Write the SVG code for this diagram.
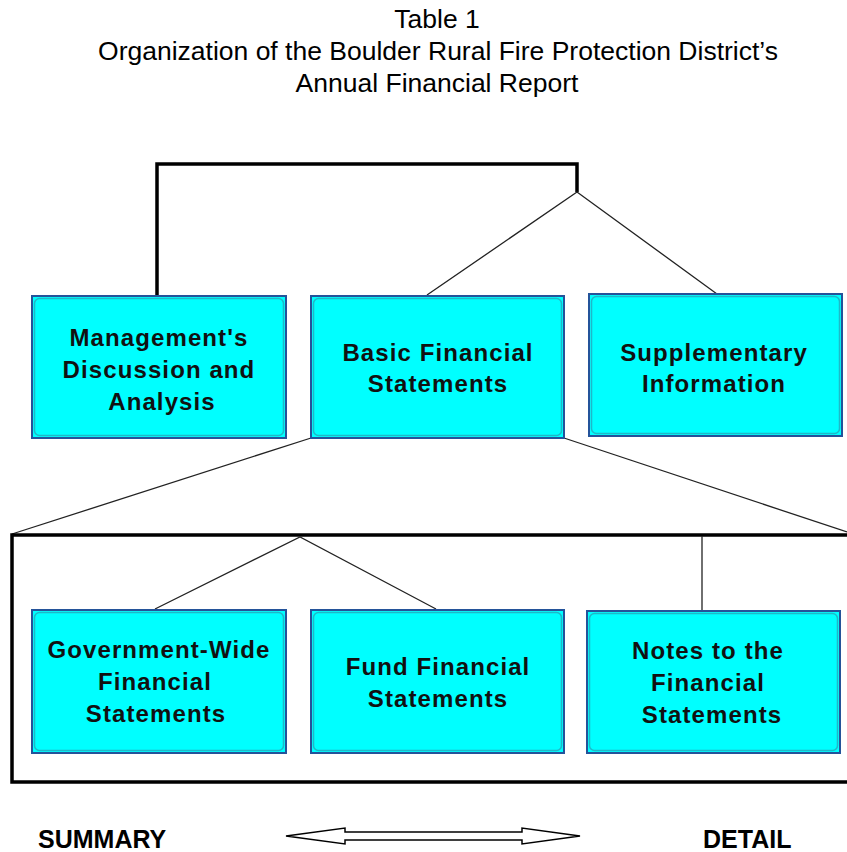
<svg xmlns="http://www.w3.org/2000/svg" width="847" height="852" viewBox="0 0 847 852">
<style>
.title{font-family:"Liberation Sans",Arial,sans-serif;font-size:26.5px;fill:#000;text-anchor:middle}
.box{fill:#00FFFF;stroke:#24539a;stroke-width:2}
.bev{fill:none;stroke:#1fb8c8;stroke-width:1.5}
.lbl{font-family:"Liberation Sans",Arial,sans-serif;font-weight:bold;font-size:24px;letter-spacing:1.1px;fill:#111;text-anchor:middle}
.thick{fill:none;stroke:#000;stroke-width:3.5}
.thin{fill:none;stroke:#222;stroke-width:1.3}
.end{font-family:"Liberation Sans",Arial,sans-serif;font-weight:bold;font-size:25px;fill:#000}
</style>
<rect width="847" height="852" fill="#fff"/>
<g id="title">
<text class="title" x="437" y="28">Table 1</text>
<text class="title" x="438" y="60">Organization of the Boulder Rural Fire Protection District’s</text>
<text class="title" x="437" y="92">Annual Financial Report</text>
</g>
<g id="connectors">
<path class="thick" d="M157,295 V164 H577 V192"/>
<path class="thin" d="M427,295 L577,192 L717,294"/>
<path class="thin" d="M311,438 L12,534"/>
<path class="thin" d="M564,438 L847,532"/>
<path class="thick" d="M847,535 H12 V782 H847"/>
<path class="thin" d="M155,609 L300,537 L436,609"/>
<path class="thin" d="M702,536 V610"/>
</g>
<g id="mda">
<rect class="box" x="32" y="296" width="254" height="142"/>
<rect class="bev" x="34.5" y="298.5" width="249" height="137" rx="5"/>
<text class="lbl" x="159" y="346">Management's</text>
<text class="lbl" x="159" y="378">Discussion and</text>
<text class="lbl" x="162" y="410">Analysis</text>
</g>
<g id="basic">
<rect class="box" x="311" y="296" width="253" height="142"/>
<rect class="bev" x="313.5" y="298.5" width="248" height="137" rx="5"/>
<text class="lbl" x="438" y="361">Basic Financial</text>
<text class="lbl" x="438" y="392">Statements</text>
</g>
<g id="supp">
<rect class="box" x="589" y="294" width="253" height="142"/>
<rect class="bev" x="591.5" y="296.5" width="248" height="137" rx="5"/>
<text class="lbl" x="714" y="361">Supplementary</text>
<text class="lbl" x="714" y="392">Information</text>
</g>
<g id="govwide">
<rect class="box" x="32" y="610" width="254" height="143"/>
<rect class="bev" x="34.5" y="612.5" width="249" height="138" rx="5"/>
<text class="lbl" x="159" y="658">Government-Wide</text>
<text class="lbl" x="155" y="690">Financial</text>
<text class="lbl" x="156" y="722">Statements</text>
</g>
<g id="fund">
<rect class="box" x="311" y="610" width="253" height="143"/>
<rect class="bev" x="313.5" y="612.5" width="248" height="138" rx="5"/>
<text class="lbl" x="438" y="675">Fund Financial</text>
<text class="lbl" x="438" y="707">Statements</text>
</g>
<g id="notes">
<rect class="box" x="587" y="611" width="253" height="142"/>
<rect class="bev" x="589.5" y="613.5" width="248" height="137" rx="5"/>
<text class="lbl" x="708" y="659">Notes to the</text>
<text class="lbl" x="708" y="691">Financial</text>
<text class="lbl" x="712" y="723">Statements</text>
</g>
<g id="scale">
<text class="end" x="38" y="848">SUMMARY</text>
<text class="end" x="703" y="848">DETAIL</text>
<polygon points="286,836 345,828 345,832 522,832 522,828 580,836 522,844 522,840 345,840 345,844" fill="#fff" stroke="#000" stroke-width="1.5"/>
</g>
</svg>
